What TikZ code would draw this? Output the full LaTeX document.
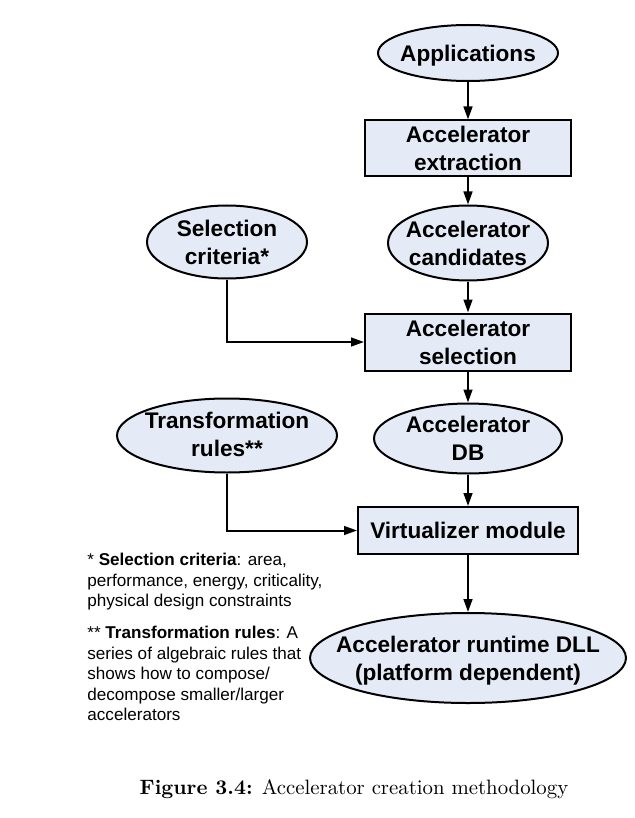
\documentclass[tikz,border=0pt]{standalone}
\usepackage{fontspec}
\newfontfamily\arialfont{Liberation Sans}
\usetikzlibrary{shapes.geometric,arrows.meta}
\definecolor{boxfill}{RGB}{229,235,246}
\begin{document}
\begin{tikzpicture}
[x=0.5pt,y=-0.5pt,
txt/.style={inner sep=0pt,align=center,font=\arialfont\bfseries\fontsize{11.3}{14}\selectfont},
blk/.style={rectangle,draw,fill=boxfill,line width=1pt,txt},
oval/.style={ellipse,draw,fill=boxfill,line width=1pt,inner sep=0pt},
arr/.style={line width=1pt,-{Triangle[length=6.5pt,width=4.4pt]}}]
\useasboundingbox (0,0) rectangle (635,818);
\node[oval,minimum width=90pt,minimum height=28pt] (app) at (468,53) [label={[txt,yshift=-1.5pt]center:Applications}] {};
\node[blk,minimum width=103pt,minimum height=28pt] (extr) at (468,148.5) {Accelerator\\extraction};
\node[oval,minimum width=80pt,minimum height=37.5pt] (cand) at (468,243) [label={[txt]center:{Accelerator\\candidates}}] {};
\node[oval,minimum width=80pt,minimum height=36.5pt] (crit) at (227,242) [label={[txt]center:{Selection\\criteria*}}] {};
\node[blk,minimum width=103pt,minimum height=28.5pt] (sel) at (468,342) {Accelerator\\selection};
\node[oval,minimum width=94pt,minimum height=35pt] (db) at (468,438.5) [label={[txt]center:{Accelerator\\DB}}] {};
\node[oval,minimum width=110pt,minimum height=37pt] (trans) at (227,435.5) [label={[txt,yshift=0.5pt]center:{Transformation\\rules**}}] {};
\node[blk,minimum width=110pt,minimum height=23.5pt] (virt) at (468,530.5) {Virtualizer module};
\node[oval,minimum width=158pt,minimum height=45pt] (dll) at (468,658) [label={[txt,yshift=-1.2pt]center:{Accelerator runtime DLL\\(platform dependent)}}] {};
\draw[arr] (app) -- (extr);
\draw[arr] (extr) -- (cand);
\draw[arr] (cand) -- (sel);
\draw[arr] (sel) -- (db);
\draw[arr] (db) -- (virt);
\draw[arr] (virt) -- (dll);
\draw[arr] (crit.south) |- (sel.west);
\draw[arr] (trans.south) |- (virt.west);
\node[anchor=north west,inner sep=0pt,align=left,font=\arialfont\fontsize{8.55}{10.25}\selectfont] (notes) at (87,553)
{* \textbf{Selection criteria}: area,\\performance, energy, criticality,\\physical design constraints\\[5.75pt]
** \textbf{Transformation rules}: A\\series of algebraic rules that\\shows how to compose/\\decompose smaller/larger\\accelerators};
\node[anchor=base,inner sep=0pt,font=\fontsize{10.4}{12}\selectfont] (caption) at (354,794)
{\textbf{Figure 3.4:} Accelerator creation methodology};
\end{tikzpicture}
\end{document}
